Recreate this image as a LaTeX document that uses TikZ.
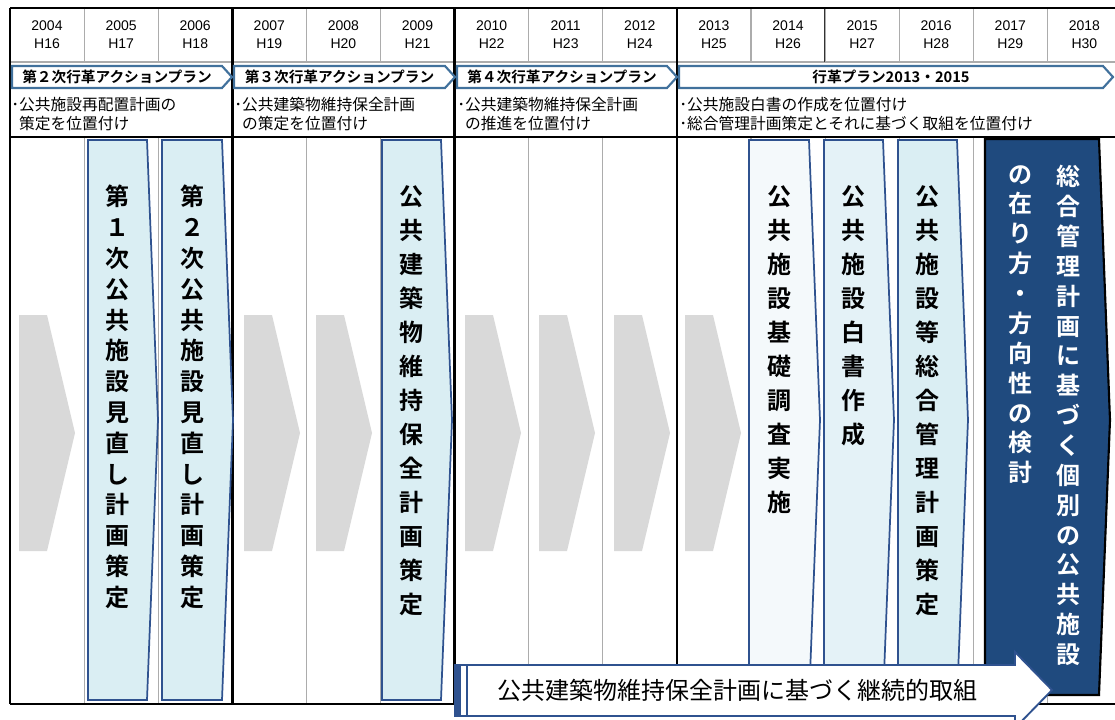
\documentclass[tikz,border=0pt]{standalone}
\usepackage{fontspec}
\setmainfont{Liberation Sans}
\newfontfamily\jp{Noto Sans CJK JP}[BoldFont={Noto Sans CJK JP Bold}]
\definecolor{boxline}{RGB}{47,82,143}
\definecolor{bannerline}{RGB}{65,113,156}
\definecolor{paleblue}{RGB}{218,238,243}
\definecolor{paleblueB}{RGB}{228,242,247}
\definecolor{paleblueC}{RGB}{244,249,251}
\definecolor{chevgrey}{RGB}{217,217,217}
\definecolor{navybox}{RGB}{31,74,126}
\begin{document}
\begin{tikzpicture}[x=0.75pt,y=-0.75pt,
	thickrule/.style={line width=1.8pt},
	gridline/.style={draw=gray!65,line width=0.8pt},
	banner/.style={draw=bannerline,fill=white,line width=1.6pt},
	bannertext/.style={font=\jp\bfseries\fontsize{11}{13}\selectfont},
	note/.style={font=\jp\fontsize{11.8}{14.25}\selectfont,align=left,inner sep=0pt,anchor=north west},
	tallbox/.style={draw=boxline,line width=1.3pt},
	stack/.style={font=\jp\bfseries\fontsize{18}{#1}\selectfont,align=center,inner sep=0pt,anchor=north},
	yeartext/.style={font=\fontsize{10.5}{12}\selectfont}]
	\useasboundingbox[fill=white] (0,0) rectangle (1115,719);

	% column rules
	\foreach \k in {1,...,14}{
		\draw[gridline] ({10+74.1*\k},8) -- ({10+74.1*\k},62);
		\draw[gridline] ({10+74.1*\k},137) -- ({10+74.1*\k},704);
	}
	\draw[gridline] (10,62) -- (1115,62);
	\draw[draw=black!80,line width=0.8pt] (824.5,8) -- (824.5,62);

	% years
	\foreach \yr [count=\i from 0] in {2004,...,2018}{
		\pgfmathtruncatemacro\heisei{\yr-1988}
		\node[yeartext] (yr\i) at ({47+74.1*\i},26) {\yr};
		\node[yeartext] (h\i) at ({47+74.1*\i},44) {H\heisei};
	}

	% frame
	\draw[thickrule] (10,8) -- (1115,8);
	\draw[thickrule] (10,137) -- (1115,137);
	\draw[thickrule] (10,704) -- (1115,704);
	\draw[thickrule] (10,8) -- (10,704);
	\foreach \k in {3,6,9}
		\draw[thickrule] ({10+74.1*\k},8) -- ({10+74.1*\k},704);

	% plans
	\foreach \a/\b/\t [count=\i] in {12/222/{第２次行革アクションプラン},234/445/{第３次行革アクションプラン},457/667/{第４次行革アクションプラン},679/1103/{行革プラン2013・2015}}{
		\draw[banner] (\a,66) -- (\b,66) -- ++(10,11) -- ++(-10,11) -- (\a,88) -- cycle;
		\node[bannertext] (plan\i) at ({(\a+\b)/2},77) {\t};
	}

	\node[note] (note1) at (11,97) {･公共施設再配置計画の\\\hphantom{･}策定を位置付け};
	\node[note] (note2) at (234,97) {･公共建築物維持保全計画\\\hphantom{･}の策定を位置付け};
	\node[note] (note3) at (457,97) {･公共建築物維持保全計画\\\hphantom{･}の推進を位置付け};
	\node[note] (note4) at (679,97) {･公共施設白書の作成を位置付け\\･総合管理計画策定とそれに基づく取組を位置付け};

	% grey steps
	\foreach \a in {19,244,316,465,539,614,685}
		\fill[chevgrey] (\a,315) -- ++(28,0) -- ++(28,118) -- ++(-28,118) -- ++(-28,0) -- cycle;

	% tall boxes
	\foreach \a/\b/\c in {88/147/paleblue,162/222/paleblue,382/441/paleblue,749/809/paleblueC,824/883/paleblueB,898/957/paleblue}
		\draw[tallbox,fill=\c] (\a,140) -- (\b,140) -- ({\b+11},420) -- (\b,700) -- (\a,700) -- cycle;

	\node[stack=23.1] (mina1) at (117.5,185) {第\\１\\次\\公\\共\\施\\設\\見\\直\\し\\計\\画\\策\\定};
	\node[stack=23.1] (mina2) at (192,185) {第\\２\\次\\公\\共\\施\\設\\見\\直\\し\\計\\画\\策\\定};
	\node[stack=25.5] (hozen) at (411.5,185) {公\\共\\建\\築\\物\\維\\持\\保\\全\\計\\画\\策\\定};
	\node[stack=25.5] (kiso) at (779,185) {公\\共\\施\\設\\基\\礎\\調\\査\\実\\施};
	\node[stack=25.5] (hakusho) at (853.5,185) {公\\共\\施\\設\\白\\書\\作\\成};
	\node[stack=25.5] (sogo) at (927.5,185) {公\\共\\施\\設\\等\\総\\合\\管\\理\\計\\画\\策\\定};

	% individual plans
	\draw[draw=black,fill=navybox,line width=1.6pt] (985,139) -- (1099,139) -- (1110,420) -- (1099,695) -- (985,695) -- cycle;
	\node[stack=22.4,text=white] (kobetsu1) at (1068,165) {総\\合\\管\\理\\計\\画\\に\\基\\づ\\く\\個\\別\\の\\公\\共\\施\\設};
	\node[stack=22.4,text=white] (kobetsu2) at (1020,165) {の\\在\\り\\方\\・\\方\\向\\性\\の\\検\\討};

	% continuing work
	\draw[draw=boxline,fill=white,line width=1.4pt] (455,665) -- (1015,665) -- (1015,652) -- (1052,690) -- (1015,728) -- (1015,716) -- (455,716) -- cycle;
	\fill[boxline] (455,665) rectangle (461,716);
	\draw[boxline,line width=1pt] (467,665) -- (467,716);
	\node[font=\jp\fontsize{18}{20}\selectfont] (keizoku) at (737,690) {公共建築物維持保全計画に基づく継続的取組};
\end{tikzpicture}
\end{document}
